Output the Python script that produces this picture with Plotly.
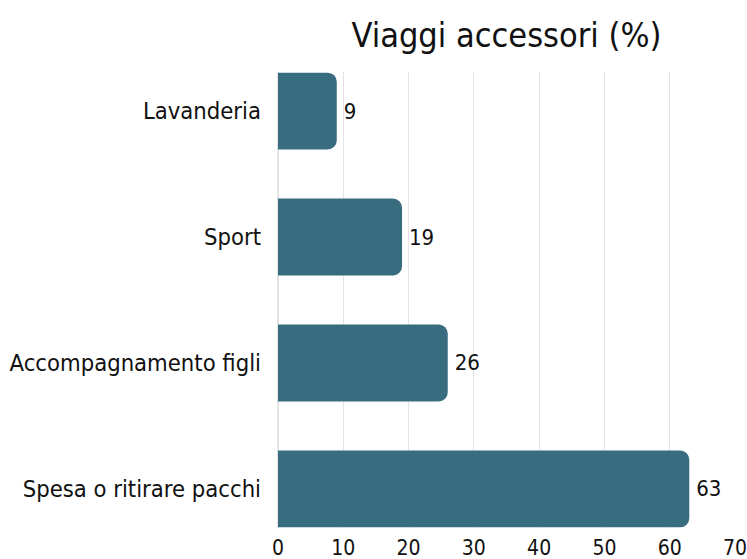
import plotly.graph_objects as go

categories = ["Spesa o ritirare pacchi", "Accompagnamento figli", "Sport", "Lavanderia"]
values = [63, 26, 19, 9]
x_ticks = [0, 10, 20, 30, 40, 50, 60, 70]
title_text = "Viaggi accessori (%)"

FONT = "DejaVu Sans Condensed, DejaVu Sans"

W, H = 747, 559

fig = go.Figure(go.Bar(
    x=values,
    y=categories,
    orientation="h",
    marker=dict(color="#386d7f", cornerradius=9, line=dict(width=0)),
    width=0.61,
    texttemplate="\u2009%{x}",
    textposition="outside",
    textfont=dict(family=FONT, size=22, color="#111111"),
    cliponaxis=False,
    hoverinfo="skip",
))

fig.update_layout(
    width=W, height=H,
    margin=dict(l=278, r=12, t=72, b=31, pad=0),
    paper_bgcolor="white", plot_bgcolor="white",
    title=dict(text=title_text, x=0.5, xref="paper", xanchor="center",
               y=1 - 35 / H, yref="container", yanchor="middle",
               font=dict(family=FONT, size=34, color="#111111")),
    showlegend=False,
    xaxis=dict(range=[0, 70], tickvals=x_ticks, showgrid=True, gridcolor="#e3e3e3",
               gridwidth=1, zeroline=True, zerolinecolor="#e3e3e3", showline=False,
               ticks="", ticklabelstandoff=5, ticklabeloverflow="allow",
               tickfont=dict(family=FONT, size=21, color="#111111"),
               automargin=False, fixedrange=True),
    yaxis=dict(categoryorder="array", categoryarray=categories, range=[-0.31, 3.31],
               showgrid=False, zeroline=False, showline=False, ticks="",
               ticklabelstandoff=16,
               tickfont=dict(family=FONT, size=23.6, color="#111111"),
               automargin=False, fixedrange=True),
)

fig.write_html("out.html", config={"displayModeBar": False},
               post_script="document.body.style.margin='0';document.body.style.overflow='hidden';")
